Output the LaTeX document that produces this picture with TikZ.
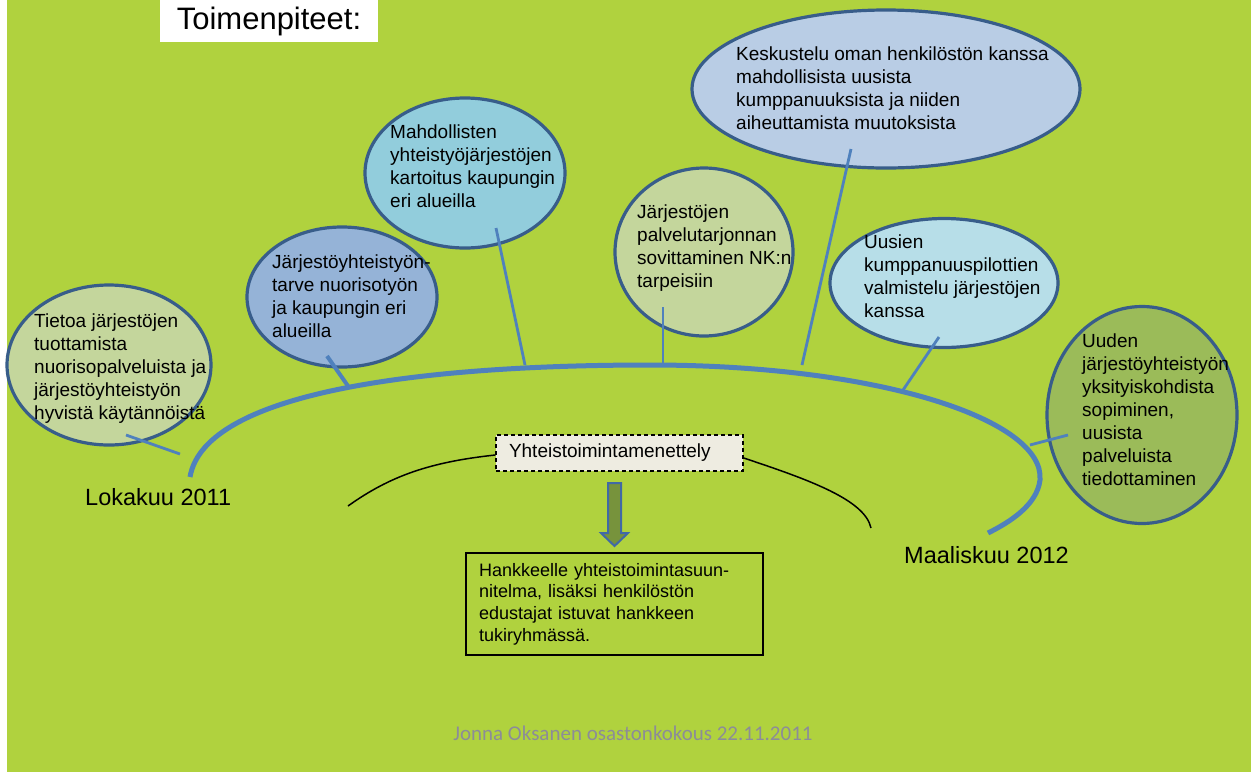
\documentclass[tikz,border=0pt]{standalone}
\usepackage{fontspec}
\setmainfont{Liberation Sans}
\newfontfamily\footfont{Carlito}
\usetikzlibrary{calc,shapes.geometric}
\definecolor{BgClr}{RGB}{176,210,62}
\definecolor{EdgeClr}{RGB}{56,93,138}
\definecolor{LineClr}{RGB}{79,129,189}
\definecolor{OliveClr}{RGB}{196,214,156}
\definecolor{SteelClr}{RGB}{149,179,215}
\definecolor{AquaClr}{RGB}{146,205,220}
\definecolor{MistClr}{RGB}{185,205,229}
\definecolor{IceClr}{RGB}{183,222,232}
\definecolor{MossClr}{RGB}{155,187,89}
\definecolor{PaperClr}{RGB}{238,236,225}
\definecolor{ArrowClr}{RGB}{119,147,60}
\definecolor{ArrowEdgeClr}{RGB}{65,105,165}
\definecolor{FootClr}{RGB}{140,140,152}

\tikzset{
  bubble/.style={ellipse,draw=EdgeClr,line width=3.2pt,inner sep=0pt},
  bubbletext/.style={anchor=north west,inner sep=0pt,align=left,
    font=\fontsize{19}{23}\selectfont,execute at begin node={\rule{0pt}{18pt}}},
  twig/.style={draw=LineClr,line width=2.8pt},
  datelabel/.style={anchor=base west,inner sep=0pt,font=\fontsize{23.5}{28}\selectfont}
}

\begin{document}
\begin{tikzpicture}[x=1pt,y=-1pt]
\useasboundingbox (0,0) rectangle (1251,772);
\fill[white] (0,0) rectangle (1251,772);
\fill[BgClr] (7,0) rectangle (1251,772);

% Title.
\node[fill=white,minimum width=218pt,minimum height=42pt,inner sep=0pt,
  font=\fontsize{31}{37}\selectfont] (title) at (269,21) {Toimenpiteet:};

% Draw the time line.
\draw[LineClr,line width=5pt] (190,477) .. controls (205,390) and (430,365) .. (650,365)
  .. controls (880,365) and (1045,420) .. (1040,480)
  .. controls (1037,505) and (1010,522) .. (988,533);

% Bubbles.
\node[bubble,fill=OliveClr,minimum width=204pt,minimum height=160pt] (tieto) at (109,365) {};
\node[bubble,fill=SteelClr,minimum width=190pt,minimum height=140pt] (tarve) at (342,297) {};
\node[bubble,fill=AquaClr,minimum width=200pt,minimum height=150pt] (kartoitus) at (465,173) {};
\node[bubble,fill=OliveClr,minimum width=178pt,minimum height=168pt] (sovitus) at (704,252) {};
\node[bubble,fill=MistClr,minimum width=388pt,minimum height=158pt] (keskustelu) at (886,89) {};
\node[bubble,fill=IceClr,minimum width=228pt,minimum height=129pt] (pilotit) at (944,283) {};
\node[bubble,fill=MossClr,minimum width=190pt,minimum height=217pt] (sopiminen) at (1142,415) {};

% Bubble texts.
\node[bubbletext] (tieto-txt) at (34,314) {Tietoa järjestöjen\\tuottamista\\nuorisopalveluista ja\\järjestöyhteistyön\\hyvistä käytännöistä};
\node[bubbletext] (tarve-txt) at (272,255) {Järjestöyhteistyön-\\tarve nuorisotyön\\ja kaupungin eri\\alueilla};
\node[bubbletext] (kartoitus-txt) at (390,125) {Mahdollisten\\yhteistyöjärjestöjen\\kartoitus kaupungin\\eri alueilla};
\node[bubbletext] (sovitus-txt) at (637,205) {Järjestöjen\\palvelutarjonnan\\sovittaminen NK:n\\tarpeisiin};
\node[bubbletext] (keskustelu-txt) at (736,47) {Keskustelu oman henkilöstön kanssa\\mahdollisista uusista\\kumppanuuksista ja niiden\\aiheuttamista muutoksista};
\node[bubbletext] (pilotit-txt) at (864,235) {Uusien\\kumppanuuspilottien\\valmistelu järjestöjen\\kanssa};
\node[bubbletext] (sopiminen-txt) at (1082,334) {Uuden\\järjestöyhteistyön\\yksityiskohdista\\sopiminen,\\uusista\\palveluista\\tiedottaminen};

% Free ends of the twigs.
\coordinate (tieto-end) at (180,454);
\coordinate (tarve-end) at (348,386);
\coordinate (kartoitus-end) at (525,365);
\coordinate (sovitus-end) at (663,365);
\coordinate (keskustelu-end) at (802,365);
\coordinate (pilotit-end) at (901,393);
\coordinate (sopiminen-end) at (1030,445);

% Draw twigs.
\draw[twig] ($(tieto)+(17,70)$) -- (tieto-end);
\draw[twig,line width=4pt] ($(tarve)+(-15,59)$) -- (tarve-end);
\draw[twig] ($(kartoitus)+(31,55)$) -- (kartoitus-end);
\draw[twig] ($(sovitus)+(-41,55)$) -- (sovitus-end);
\draw[twig] ($(keskustelu)+(-35,60)$) -- (keskustelu-end);
\draw[twig] ($(pilotit)+(-5,54)$) -- (pilotit-end);
\draw[twig] ($(sopiminen)+(-74,20)$) -- (sopiminen-end);

\node[datelabel] (alku) at (85,505) {Lokakuu 2011};
\node[datelabel] (loppu) at (904,563) {Maaliskuu 2012};

% Procedure box and its curves.
\node[draw=black,dash pattern=on 4pt off 3pt,line width=1.3pt,fill=PaperClr,
  minimum width=247pt,minimum height=36pt,inner xsep=13pt,text width=221pt,align=left,
  font=\fontsize{19}{23}\selectfont] (menettely) at (619.5,453) {Yhteistoimintamenettely};
\coordinate (kaari-vasen) at (348,506);
\coordinate (kaari-oikea) at (871,528);
\draw[line width=1.5pt] (kaari-vasen) .. controls (390,476) and (430,462) .. ($(menettely.west)+(0,2)$);
\draw[line width=1.5pt] ($(menettely.east)+(0,5)$) .. controls (810,480) and (865,500) .. (kaari-oikea);

% Block arrow.
\draw[draw=ArrowEdgeClr,fill=ArrowClr,line width=2pt] (608,483) -- (621,483) -- (621,533)
  -- (628,533) -- (614.5,546) -- (601,533) -- (608,533) -- cycle;

\node[draw=black,line width=1.5pt,minimum width=297pt,minimum height=102pt,inner xsep=13pt,
  text width=271pt,align=left,font=\fontsize{18}{21.7}\selectfont] (suunnitelma) at (614.5,604)
  {Hankkeelle yhteistoimintasuun-\\nitelma, lisäksi henkilöstön\\edustajat istuvat hankkeen\\tukiryhmässä.};

\node[anchor=base,inner sep=0pt,text=FootClr,font=\footfont\fontsize{21}{25}\selectfont] (alatunniste) at (633,740)
  {Jonna Oksanen osastonkokous 22.11.2011};
\end{tikzpicture}
\end{document}
